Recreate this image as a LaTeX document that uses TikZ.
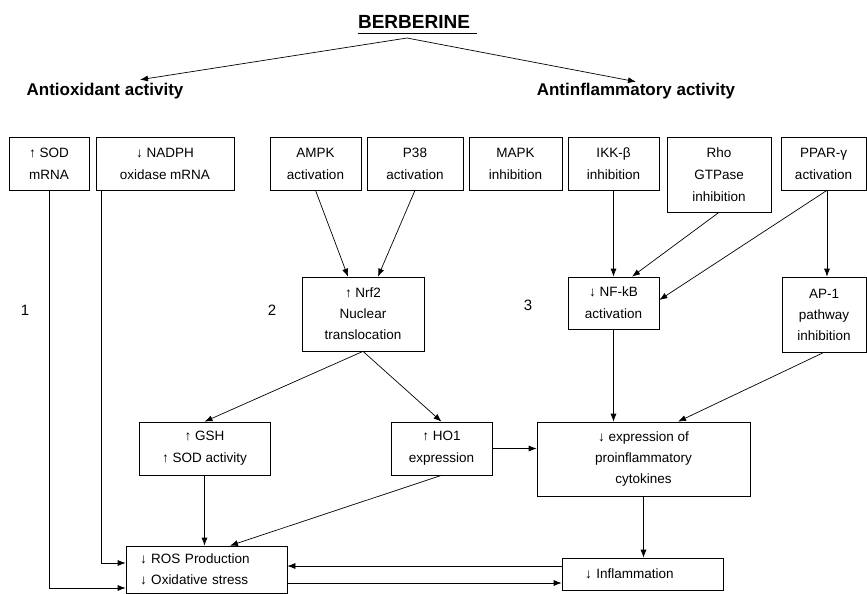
\documentclass[tikz,border=0pt]{standalone}
\usepackage{fontspec}
\setmainfont{Liberation Sans}
\usetikzlibrary{arrows.meta}
\tikzset{
  every picture/.style={
    line width=0.7pt
  },
  box/.style={draw, align=center, inner sep=0pt, font=\fontsize{13.5}{22}\selectfont},
  heading/.style={inner sep=0pt, font=\fontsize{17}{20}\selectfont\bfseries},
  pathnum/.style={inner sep=0pt, font=\fontsize{15}{18}\selectfont}
}

\begin{document}
\begin{tikzpicture}[x=1pt, y=-1pt, >={Latex[length=8pt,width=6pt]}]
  \useasboundingbox (0,0) rectangle (867,594);

  % header
  \node[inner sep=0pt, font=\fontsize{19}{22}\selectfont\bfseries] (berb) at (414,22) {BERBERINE};
  \draw[line width=1.5pt] ([yshift=-4.5pt]berb.south west) -- ([xshift=7pt,yshift=-4.5pt]berb.south east);
  \coordinate (split) at (407,38);
  \node[heading] (antiox) at (105,91) {Antioxidant activity};
  \node[heading] (antinfl) at (636,91) {Antinflammatory activity};
  \draw[->] (split) -- ([xshift=35pt,yshift=3pt]antiox.north);
  \draw[->] (split) -- ([yshift=1pt]antinfl.north);

  % top row
  \node[box, minimum width=80pt, minimum height=53pt] (sod) at (49,163.5) {↑ SOD\\mRNA};
  \node[box, minimum width=138pt, minimum height=53pt] (nadph) at (165,163.5) {↓ NADPH\\oxidase mRNA};
  \node[box, minimum width=91pt, minimum height=53pt] (ampk) at (315.5,163.5) {AMPK\\activation};
  \node[box, minimum width=96pt, minimum height=53pt] (p38) at (415,163.5) {P38\\activation};
  \node[box, minimum width=93pt, minimum height=53pt] (mapk) at (515.5,163.5) {MAPK\\inhibition};
  \node[box, minimum width=91pt, minimum height=53pt] (ikk) at (613.5,163.5) {IKK-β\\inhibition};
  \node[box, minimum width=104pt, minimum height=75pt] (rho) at (719,174.5) {Rho\\GTPase\\inhibition};
  \node[box, minimum width=85pt, minimum height=53pt] (ppar) at (823.5,163.5) {PPAR-γ\\activation};

  % pathway numbers
  \node[pathnum] (n1) at (25,310) {1};
  \node[pathnum] (n2) at (272,310) {2};
  \node[pathnum] (n3) at (528,305) {3};

  % middle row
  \node[box, minimum width=122pt, minimum height=74pt, font=\fontsize{13.5}{21}\selectfont] (nrf2) at (363,314) {↑ Nrf2\\Nuclear\\translocation};
  \node[box, minimum width=91pt, minimum height=52pt] (nfkb) at (613.5,303) {↓ NF-kB\\activation};
  \node[box, minimum width=84pt, minimum height=75pt, font=\fontsize{13.5}{21}\selectfont] (ap1) at (824,314.5) {AP-1\\pathway\\inhibition};

  % lower row
  \node[box, minimum width=131pt, minimum height=53pt] (gsh) at (204.5,448.5) {↑ GSH\\↑ SOD activity};
  \node[box, minimum width=101pt, minimum height=53pt] (ho1) at (441.5,448.5) {↑ HO1\\expression};
  \node[box, minimum width=213pt, minimum height=74pt, font=\fontsize{13.5}{21}\selectfont] (cyto) at (643.5,459) {↓ expression of\\proinflammatory\\cytokines};

  % outcomes
  \node[box, align=left, text width=133pt, inner xsep=14pt, minimum height=47pt, font=\fontsize{13.5}{21}\selectfont] (ros) at (206.5,569.5) {↓ ROS Production\\↓ Oxidative stress};
  \node[box, align=left, text width=115pt, inner xsep=23pt, minimum height=32pt] (infl) at (642.5,574) {↓ Inflammation};

  % antioxidant links
  \draw[->] (sod.south) |- ([yshift=-18.5pt]ros.west);
  \draw[->] ([xshift=6pt]nadph.south west) |- ([yshift=6.5pt]ros.west);
  \draw[->] (ampk.south) -- ([xshift=-15pt]nrf2.north);
  \draw[->] (p38.south) -- ([xshift=15pt]nrf2.north);
  \draw[->] (nrf2.south) -- (gsh.north);
  \draw[->] (nrf2.south) -- (ho1.north);
  \draw[->] (gsh.south) -- (gsh.south |- ros.north);
  \draw[->] (ho1.south) -- ([xshift=23.5pt]ros.north);
  \draw[->] (ho1.east) -- (ho1.east -| cyto.west);

  % antinflammatory links
  \draw[->] (ikk.south) -- (ikk.south |- nfkb.north);
  \draw[->] (rho.south) -- ([xshift=18.5pt]nfkb.north);
  \draw[->] ([xshift=3.5pt]ppar.south) -- ([yshift=3pt]nfkb.east);
  \draw[->] ([xshift=3.5pt]ppar.south) -- ([xshift=3pt]ap1.north);
  \draw[->] (nfkb.south) -- (nfkb.south |- cyto.north);
  \draw[->] (ap1.south) -- ([xshift=34.5pt]cyto.north);
  \draw[->] (cyto.south) -- (cyto.south |- infl.north);

  % feedback between outcomes
  \draw[->] ([yshift=8pt]infl.west) -- ([yshift=8pt]infl.west -| ros.east);
  \draw[->] ([yshift=-13.5pt]ros.east) -- ([yshift=-13.5pt]ros.east -| infl.west);
\end{tikzpicture}
\end{document}
